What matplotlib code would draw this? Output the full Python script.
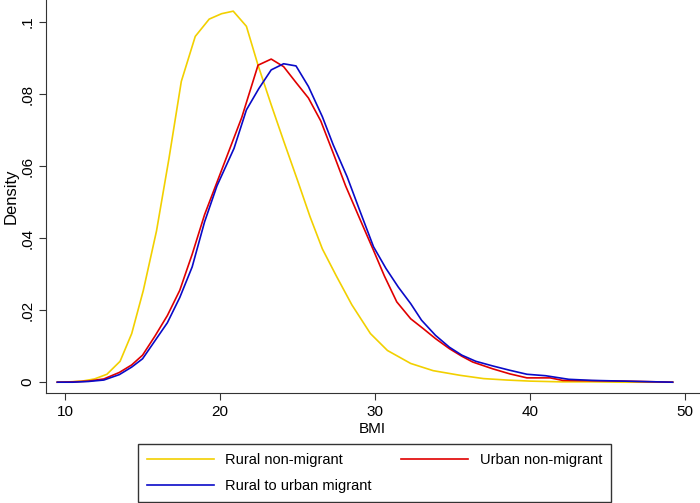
import matplotlib
matplotlib.use("Agg")
import matplotlib.pyplot as plt

plt.rcParams['font.family'] = ['Liberation Sans', 'DejaVu Sans']

# kernel density curves (BMI, density)
rural_x = [9.5, 10.3, 11.1, 11.9, 12.7, 13.55, 14.3, 15.05, 15.9, 16.7, 17.5, 18.4,
           19.3, 20.1, 20.85, 21.7, 22.45, 23.3, 24.1, 25.0, 25.8, 26.6, 27.5, 28.5,
           29.7, 30.8, 32.3, 33.75, 35.5, 37.0, 38.5, 40.0, 42.0, 44.0, 46.0, 49.2]
rural_y = [0, 0.0001, 0.0003, 0.0009, 0.0022, 0.0058, 0.0135, 0.0255, 0.042, 0.062,
           0.0835, 0.096, 0.1008, 0.1023, 0.103, 0.0988, 0.088, 0.077, 0.067, 0.056,
           0.046, 0.037, 0.0295, 0.0215, 0.0135, 0.0088, 0.0052, 0.0032, 0.0019, 0.001,
           0.0006, 0.0003, 0.0001, 0.0001, 0.0, 0.0]

urban_x = [9.5, 10.5, 11.5, 12.5, 13.5, 14.3, 15.0, 15.8, 16.6, 17.4, 18.2, 19.0,
           19.8, 20.6, 21.4, 22.45, 23.3, 24.1, 24.9, 25.7, 26.5, 27.3, 28.1, 29.0,
           29.9, 30.6, 31.4, 32.3, 33.1, 33.9, 34.8, 35.6, 36.3, 37.6, 38.7, 39.8,
           41.3, 42.1, 44.0, 46.0, 49.2]
urban_y = [0, 0.0001, 0.0003, 0.0009, 0.0027, 0.0048, 0.0075, 0.0128, 0.0185, 0.0255,
           0.0355, 0.0465, 0.0555, 0.0645, 0.0735, 0.0880, 0.0897, 0.0876, 0.0832,
           0.0789, 0.0725, 0.0636, 0.0545, 0.0455, 0.0366, 0.0295, 0.0223, 0.0176,
           0.0149, 0.0121, 0.0093, 0.0072, 0.0056, 0.0037, 0.0023, 0.0012, 0.0012,
           0.0005, 0.0004, 0.0003, 0.0]

migr_x = [9.5, 10.5, 11.5, 12.5, 13.5, 14.3, 15.0, 15.8, 16.6, 17.4, 18.2, 19.0,
          19.8, 20.9, 21.7, 22.5, 23.3, 24.1, 24.9, 25.7, 26.6, 27.3, 28.2, 29.0,
          29.9, 30.7, 31.5, 32.3, 33.0, 33.9, 34.8, 35.6, 36.5, 37.6, 38.7, 39.8,
          41.0, 42.5, 44.0, 46.0, 49.2]
migr_y = [0, 0.0, 0.0002, 0.0006, 0.0021, 0.0042, 0.0065, 0.0115, 0.0165, 0.0235,
          0.032, 0.0445, 0.0545, 0.0649, 0.0756, 0.0815, 0.0867, 0.0884, 0.0878,
          0.0821, 0.0737, 0.0659, 0.057, 0.0478, 0.0376, 0.0316, 0.0264, 0.0218,
          0.0172, 0.013, 0.0097, 0.0075, 0.0058, 0.0045, 0.0033, 0.0022, 0.0018,
          0.0008, 0.0005, 0.0003, 0.0]

xticks = [10, 20, 30, 40, 50]
yticks = [0, 0.02, 0.04, 0.06, 0.08, 0.1]
ytick_labels = ['0', '.02', '.04', '.06', '.08', '.1']

fig = plt.figure(figsize=(7, 5.03), dpi=100)
ax = fig.add_axes([46/700, 110/503, 653/700, 393/503])

l1, = ax.plot(rural_x, rural_y, color='#F2D000', lw=1.2, label='Rural non-migrant')
l2, = ax.plot(urban_x, urban_y, color='#E00000', lw=1.2, label='Urban non-migrant')
l3, = ax.plot(migr_x, migr_y, color='#0A0AC8', lw=1.2, label='Rural to urban migrant')

ax.set_xlim(8.77, 50.9)
ax.set_ylim(-0.003, 0.1061)
ax.set_xticks(xticks)
ax.set_yticks(yticks)
ax.set_yticklabels(ytick_labels, rotation=90, va='center')
ax.tick_params(labelsize=11, length=5, color='#333333')
ax.spines['top'].set_visible(False)
ax.spines['right'].set_visible(False)
ax.spines['left'].set_color('#333333')
ax.spines['bottom'].set_color('#333333')
ax.set_xlabel('BMI', fontsize=11, labelpad=2)
ax.set_ylabel('Density', fontsize=12, labelpad=1)

leg = fig.legend([l1, l3, l2], ['Rural non-migrant', 'Rural to urban migrant', 'Urban non-migrant'],
                 ncol=2, loc='upper left', bbox_to_anchor=(137.5/700, 1 - 444/503),
                 fontsize=10.5, handlelength=4.6, handletextpad=0.8, columnspacing=2.0,
                 borderpad=0.62, labelspacing=0.8,
                 frameon=True, fancybox=False, edgecolor='black', borderaxespad=0)
leg.get_frame().set_linewidth(1.0)

fig.savefig('out.png', dpi=100)
